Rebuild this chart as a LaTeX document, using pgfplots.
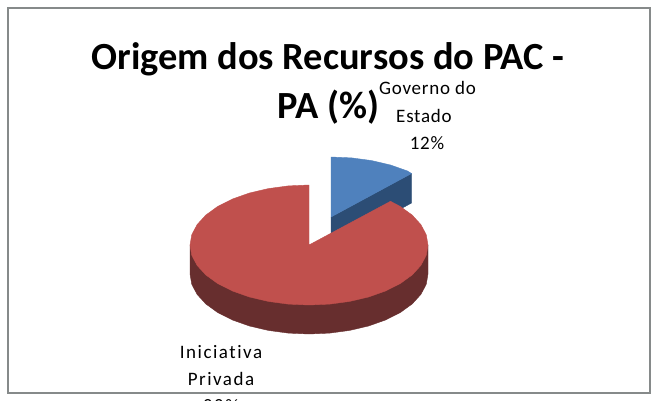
\documentclass[border=0pt]{standalone}
\usepackage{fontspec}
\setmainfont{Carlito}[Ligatures=NoCommon]
\usepackage{pgfplots}
\pgfplotsset{compat=1.18}

\definecolor{blueTop}{HTML}{4F81BD}
\definecolor{blueWall}{HTML}{2C4D75}
\definecolor{redTop}{HTML}{C0504D}
\definecolor{redWall}{HTML}{672E2E}
\definecolor{frameGray}{HTML}{868A8A}

\newcommand{\lbl}{\fontsize{19}{19}\selectfont\addfontfeature{LetterSpace=4}}
\newcommand{\lblwide}{\fontsize{19}{19}\selectfont\addfontfeature{LetterSpace=8}}
\newcommand{\ttl}{\fontsize{38.4}{38.4}\selectfont\bfseries}

\begin{document}
\begin{tikzpicture}
\clip (0,0) rectangle (658pt,401pt);
\fill[white] (0,0) rectangle (658pt,401pt);
\begin{axis}[
    hide axis,
    scale only axis,
    width=658pt, height=401pt,
    xmin=0, xmax=658,
    ymin=0, ymax=401,
    y dir=reverse,
    clip=false,
]
    % chart frame
    \addplot[frameGray, line width=2pt, no marks] coordinates {
        (8,8.5) (650,8.5) (650,393) (8,393) (8,8.5)
    } -- cycle;
    % Governo do Estado, 12%: wall then top
    \addplot[blueWall, fill=blueWall, no marks] coordinates {
        (331,217) (411.5,173.5) (411.5,203) (331,247)
    } -- cycle;
    \addplot[blueTop, fill=blueTop, no marks] coordinates {
        (331,217) (331,157) (351.7,157.9) (371.7,160.6) (390.5,165)
        (407.5,171) (411.5,173.5)
    } -- cycle;
    % Iniciativa Privada, 88%: wall then top
    \addplot[redWall, fill=redWall, no marks] coordinates {
        (428,245) (428,274) (426.2,284.4) (420.8,294.5) (412.1,304)
        (400.2,312.6) (385.5,320) (368.5,326) (349.7,330.4) (329.7,333.1)
        (309,334) (288.3,333.1) (268.3,330.4) (249.5,326) (232.5,320)
        (217.8,312.6) (205.9,304) (197.2,294.5) (191.8,284.4) (190,274)
        (190,245)
    } -- cycle;
    \addplot[redTop, fill=redTop, no marks] coordinates {
        (309,245) (390.5,201.3) (400.2,206.4) (412.1,215) (420.8,224.5)
        (426.2,234.6) (428,245) (426.2,255.4) (420.8,265.5) (412.1,275)
        (400.2,283.6) (385.5,291) (368.5,297) (349.7,301.4) (329.7,304.1)
        (309,305) (288.3,304.1) (268.3,301.4) (249.5,297) (232.5,291)
        (217.8,283.6) (205.9,275) (197.2,265.5) (191.8,255.4) (190,245)
        (191.8,234.6) (197.2,224.5) (205.9,215) (217.8,206.4) (232.5,199)
        (249.5,193) (268.3,188.6) (288.3,185.9) (309,185)
    } -- cycle;
    % title
    \node[anchor=base, font=\ttl, inner sep=0pt] at (axis cs:328,70) {Origem dos Recursos do PAC -};
    \node[anchor=base, font=\ttl, inner sep=0pt] at (axis cs:328.5,119) {PA (\%)};
    % data labels
    \node[anchor=base, inner sep=0pt, font=\lbl] at (axis cs:427.5,95) {Governo do};
    \node[anchor=base, inner sep=0pt, font=\lbl] at (axis cs:424,122) {Estado};
    \node[anchor=base, inner sep=0pt, font=\lbl] at (axis cs:427,149) {12\%};
    \node[anchor=base, inner sep=0pt, font=\lblwide] at (axis cs:221,358) {Iniciativa};
    \node[anchor=base, inner sep=0pt, font=\lblwide] at (axis cs:221,385) {Privada};
    \node[anchor=base, inner sep=0pt, font=\lblwide] at (axis cs:221,412) {88\%};
\end{axis}
\end{tikzpicture}
\end{document}
